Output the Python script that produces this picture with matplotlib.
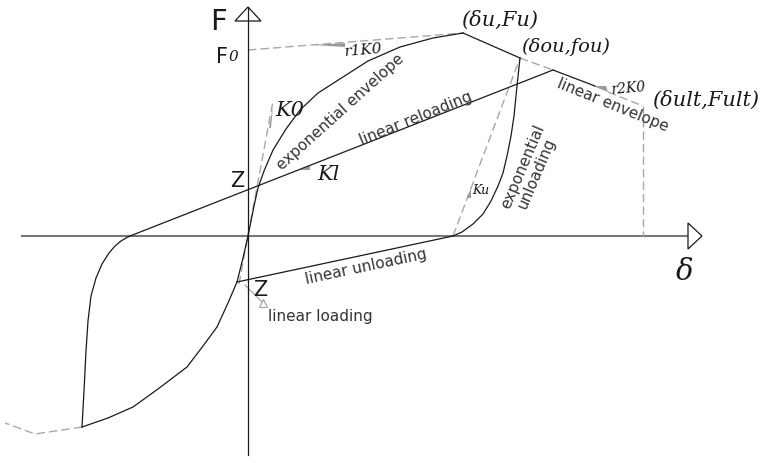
import numpy as np
import matplotlib
matplotlib.use("Agg")
import matplotlib.pyplot as plt

# --- curve data (delta, F); origin at the axis crossing ---
env_d = [0, 3, 6, 10, 16, 25, 38, 52, 70, 95, 120, 152, 185, 215]
env_f = [0, 15, 30, 48, 65, 86, 107, 126, 143, 159, 175, 189, 198, 203]

# linear descending envelope: (du,Fu) -> (dou,fou) -> reload meet -> r2K0 -> (dult,Fult)
lin_env_d = [215, 272, 305, 347, 360, 395]
lin_env_f = [203, 178, 166, 150, 144, 130]

reload_d = [-118, 305]
reload_f = [0, 166]

left_up_d = [-118, -122, -127, -133, -139, -146, -152, -157, -160, -162, -164, -166]
left_up_f = [0, -2, -5, -10, -17, -28, -42, -60, -85, -115, -155, -191]

low_d = [-166, -140, -115, -90, -61, -45, -31, -20, -11, -5, 0]
low_f = [-191, -182, -171, -153, -131, -110, -91, -67, -46, -22, 0]

tail_d = [-166, -213, -243]
tail_f = [-191, -198, -187]

unload_d = [-11, 205]
unload_f = [-46, 0]

exp_un_d = [272, 269, 266, 263, 259, 255, 250, 243, 235, 225, 214, 205]
exp_un_f = [178, 150, 120, 100, 80, 63, 50, 35, 22, 12, 4, 0]

ku_d = [205, 272]
ku_f = [0, 178]

k0_d = [-9, 25]
k0_f = [-48, 135]

r1_d = [0, 215]
r1_f = [186, 203]

ult_d = [395, 395]
ult_f = [130, 0]

load_d = [-3, 15]
load_f = [-49, -67]

# slope wedge markers (small gray triangles)
wedges = {
    "r1": ([65, 97, 97], [191, 193, 189]),
    "k0": ([21, 25, 23], [108, 130, 108]),
    "kl": ([52, 62, 62], [66, 70, 66]),
    "r2": ([345, 360, 358], [150, 144, 150]),
    "ku": ([219, 223, 223], [38, 48, 38]),
}

BLACK = "#1a1a1a"
GRAY = "#a8a8a8"
TXT = "#333333"

fig = plt.figure(figsize=(7.65, 4.63), dpi=100)
ax = fig.add_axes([0, 0, 1, 1])
ax.set_xlim(-248, 517)
ax.set_ylim(-227, 236)
ax.set_aspect("equal")
ax.axis("off")

# axes of the sketch
ax.plot([-226, 440], [0, 0], color="#777777", lw=1.5, zorder=1)
ax.fill([440, 454, 440], [13, 0, -13], facecolor="white", edgecolor=BLACK, lw=0.9, zorder=3)
ax.fill([-13, 0, 13], [215, 229, 215], facecolor="white", edgecolor=BLACK, lw=0.9, zorder=3)
ax.plot([0, 0], [-219, 229], color=BLACK, lw=0.9, zorder=4)

# gray dashed construction lines
dash = dict(color=GRAY, lw=1.0, linestyle=(0, (6, 3)), zorder=2)
ax.plot(r1_d, r1_f, **dash)
ax.plot(k0_d, k0_f, **dash)
ax.plot(ku_d, ku_f, **dash)
ax.plot(tail_d, tail_f, **dash)
ax.plot(ult_d, ult_f, **dash)
ax.plot(lin_env_d[1:3], lin_env_f[1:3], **dash)
ax.plot(lin_env_d[4:], lin_env_f[4:], **dash)
ax.plot(load_d, load_f, color=GRAY, lw=0.9, zorder=2)
ax.plot(load_d[-1], load_f[-1], marker="^", ms=6, mfc="white", mec=GRAY, mew=0.9, zorder=3)

for xs, ys in wedges.values():
    ax.fill(xs, ys, color="#9a9a9a", lw=0, zorder=3)

# black curves
solid = dict(color=BLACK, lw=0.9, zorder=3)
ax.plot(env_d, env_f, **solid)
ax.plot(lin_env_d[:2], lin_env_f[:2], **solid)
ax.plot(lin_env_d[2:4], lin_env_f[2:4], **solid)
ax.plot(reload_d, reload_f, **solid)
ax.plot(left_up_d, left_up_f, **solid)
ax.plot(low_d, low_f, **solid)
ax.plot(unload_d, unload_f, **solid)
ax.plot(exp_un_d, exp_un_f, **solid)

# labels
ax.text(-29, 214, "F", fontsize=21, color=BLACK, ha="center", va="center")
ax.text(-20, 179, "F", fontsize=15, color=BLACK, ha="right", va="center")
ax.text(-19, 179, "0", fontsize=11, style="italic", family="DejaVu Serif", color=BLACK,
        ha="left", va="center")
ax.text(-11, 55, "Z", fontsize=15, color=BLACK, ha="center", va="center")
ax.text(12, -54, "Z", fontsize=15, color=BLACK, ha="center", va="center")
ax.text(437, -36, "δ", fontsize=21, style="italic", family="DejaVu Serif", color=BLACK,
        ha="center", va="center")

script = dict(style="italic", family="DejaVu Serif", color=BLACK, ha="center", va="center")
ax.text(252, 216, "(δu,Fu)", fontsize=15, **script)
ax.text(318, 189, "(δou,fou)", fontsize=14, **script)
ax.text(458, 136, "(δult,Fult)", fontsize=15, **script)
ax.text(116, 186, "r1K0", fontsize=11, rotation=5, **script)
ax.text(380, 147, "r2K0", fontsize=10, rotation=5, **script)
ax.text(42, 126, "K0", fontsize=15, **script)
ax.text(80, 61, "Kl", fontsize=15, **script)
ax.text(233, 46, "Ku", fontsize=9, **script)

lab = dict(fontsize=11, color=TXT, ha="center", va="center", rotation_mode="anchor")
ax.text(92, 124, "exponential envelope", rotation=42, **lab)
ax.text(168, 117, "linear reloading", rotation=22, **lab)
ax.text(118, -31, "linear unloading", rotation=12, **lab)
ax.text(365, 131, "linear envelope", rotation=-22, **lab)
ax.text(282, 66, "exponential\nunloading", rotation=67, multialignment="center",
        linespacing=1.0, **lab)
ax.text(20, -80, "linear loading", fontsize=11, color=TXT, ha="left", va="center")

fig.savefig("out.png", dpi=100, facecolor="white")
